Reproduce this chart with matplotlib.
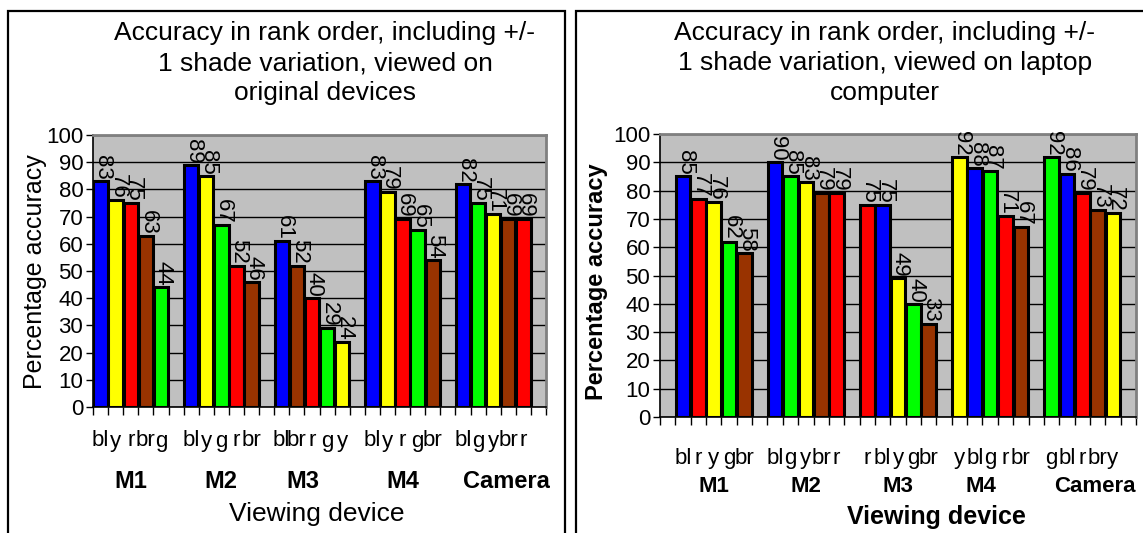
import matplotlib
matplotlib.use("Agg")
import matplotlib.pyplot as plt
from matplotlib.patches import Rectangle

plt.rcParams["font.family"] = ["Liberation Sans", "DejaVu Sans"]

GROUPS = ["M1", "M2", "M3", "M4", "Camera"]

# original devices (left panel)
LEFT_CODES = [
    ["bl", "y", "r", "br", "g"],
    ["bl", "y", "g", "r", "br"],
    ["bl", "br", "r", "g", "y"],
    ["bl", "y", "r", "g", "br"],
    ["bl", "g", "y", "br", "r"],
]
LEFT_VALUES = [
    [83, 76, 75, 63, 44],
    [89, 85, 67, 52, 46],
    [61, 52, 40, 29, 24],
    [83, 79, 69, 65, 54],
    [82, 75, 71, 69, 69],
]

# laptop computer (right panel)
RIGHT_CODES = [
    ["bl", "r", "y", "g", "br"],
    ["bl", "g", "y", "br", "r"],
    ["r", "bl", "y", "g", "br"],
    ["y", "bl", "g", "r", "br"],
    ["g", "bl", "r", "br", "y"],
]
RIGHT_VALUES = [
    [85, 77, 76, 62, 58],
    [90, 85, 83, 79, 79],
    [75, 75, 49, 40, 33],
    [92, 88, 87, 71, 67],
    [92, 86, 79, 73, 72],
]

COLORS = {"bl": "#0000FF", "y": "#FFFF00", "r": "#FF0000",
          "br": "#993300", "g": "#00FF00"}

W, H = 1143, 533


def px_axes(x0, y0, x1, y1):
    return [x0 / W, 1 - y1 / H, (x1 - x0) / W, (y1 - y0) / H]


def draw_panel(ax, codes, values, first_slot, nslots, bold, cat_y, grp_y, lab_y,
               grp_shift, grp_size, lab_x):
    ax.set_facecolor("#C0C0C0")
    for gi, (gcodes, gvals) in enumerate(zip(codes, values)):
        start = first_slot + gi * 6
        xs = [start + k for k in range(len(gvals))]
        ax.bar(xs, gvals, width=0.95, color=[COLORS[c] for c in gcodes],
               edgecolor="black", linewidth=2.2, zorder=3)
        for x, v, c in zip(xs, gvals, gcodes):
            ax.text(x + 0.15, v + 0.5, str(v), rotation=270, ha="center", va="bottom",
                    fontsize=16, zorder=4)
            ax.text(x, cat_y, c, ha="center", va="center", fontsize=16, clip_on=False)
        ax.text(start + 2 + grp_shift[gi], grp_y, GROUPS[gi], ha="center", va="center",
                fontsize=grp_size, fontweight="bold", clip_on=False)

    ax.set_xlim(-0.5, nslots - 0.5)
    ax.set_ylim(0, 100)
    ax.set_yticks(range(0, 101, 10))
    ax.yaxis.grid(True, color="black", linewidth=1.0, zorder=1)
    ax.set_axisbelow(True)
    ax.set_xticks([k - 0.5 for k in range(nslots + 1)])
    ax.set_xticklabels([])
    ax.tick_params(axis="x", direction="out", length=6, width=1)
    ax.tick_params(axis="y", direction="out", length=5, width=1, labelsize=16, pad=2)
    for s in ("left", "bottom"):
        ax.spines[s].set_color("black")
        ax.spines[s].set_linewidth(1.2)
    for s in ("top", "right"):
        ax.spines[s].set_color("#808080")
        ax.spines[s].set_linewidth(2)
    ax.text(lab_x, lab_y, "Viewing device", ha="center", va="center",
            fontsize=19 if not bold else 18, fontweight="bold" if bold else "normal",
            clip_on=False)


fig = plt.figure(figsize=(W / 100, H / 100), dpi=100)

# outer frames
fig.add_artist(Rectangle((8 / W, -0.1), (565 - 8) / W, 1.1 - 11 / H,
                         transform=fig.transFigure, fill=False,
                         edgecolor="black", linewidth=1.6))
fig.add_artist(Rectangle((576 / W, -0.1), 0.6, 1.1 - 11 / H,
                         transform=fig.transFigure, fill=False,
                         edgecolor="black", linewidth=1.6))

ax1 = fig.add_axes(px_axes(93, 135, 546, 407))
draw_panel(ax1, LEFT_CODES, LEFT_VALUES, 0, 30, False, -12.5, -27.5, -39.5,
           [0, 0, -0.6, 0, 0.9], 17, 14.3)

ax2 = fig.add_axes(px_axes(660, 134, 1136, 417))
draw_panel(ax2, RIGHT_CODES, RIGHT_VALUES, 1, 31, True, -14.5, -24.4, -35.2,
           [0, 0, 0, -0.6, 0.8], 16, 17.5)

fig.text(325 / W, 1 - 63 / H,
         "Accuracy in rank order, including +/-\n1 shade variation, viewed on\noriginal devices",
         ha="center", va="center", fontsize=19, linespacing=1.3)
fig.text(885 / W, 1 - 63 / H,
         "Accuracy in rank order, including +/-\n1 shade variation, viewed on laptop\ncomputer",
         ha="center", va="center", fontsize=19, linespacing=1.3)

fig.text(35 / W, 1 - 272 / H, "Percentage accuracy", rotation=90,
         ha="center", va="center", fontsize=18)
fig.text(597 / W, 1 - 282 / H, "Percentage accuracy", rotation=90,
         ha="center", va="center", fontsize=17, fontweight="bold")

fig.savefig("out.png", dpi=100)
